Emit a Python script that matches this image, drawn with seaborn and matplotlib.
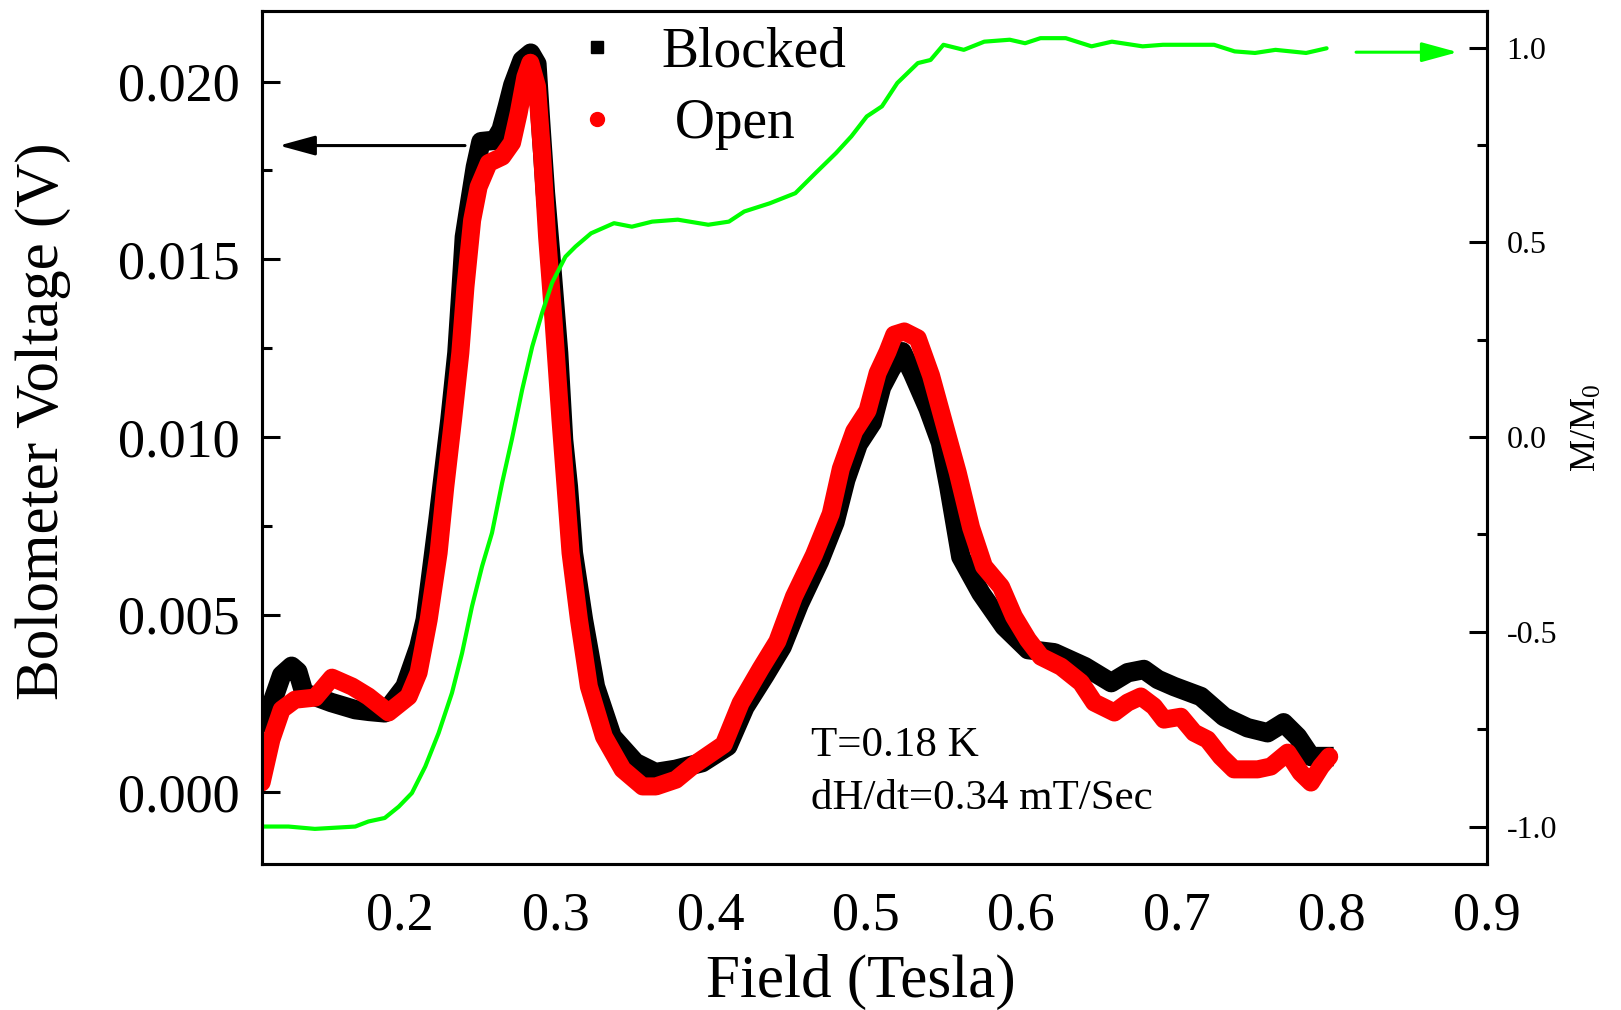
import numpy as np
import pandas as pd
import matplotlib
matplotlib.use("Agg")
import matplotlib.pyplot as plt
from matplotlib.ticker import MultipleLocator, FormatStrFormatter
from matplotlib.lines import Line2D
import seaborn as sns

# ---------------- data ----------------
blocked_field = [0.1107, 0.1180, 0.1236, 0.1300, 0.1340, 0.1380, 0.1450, 0.1556, 0.1710, 0.1800,
                 0.1900, 0.2030, 0.2120, 0.2161, 0.2243, 0.2320, 0.2365, 0.2393, 0.2413, 0.2450,
                 0.2484, 0.2520, 0.2610, 0.2650, 0.2690, 0.2725, 0.2785, 0.2840, 0.2880, 0.2903,
                 0.2935, 0.2968, 0.3020, 0.3052, 0.3083, 0.3115, 0.3180, 0.3257, 0.3365, 0.3515,
                 0.3644, 0.3773, 0.3945, 0.4110, 0.4220, 0.4350, 0.4460, 0.4570, 0.4700, 0.4800,
                 0.4870, 0.4950, 0.5040, 0.5100, 0.5160, 0.5233, 0.5300, 0.5400, 0.5480, 0.5534,
                 0.5611, 0.5740, 0.5890, 0.6043, 0.6213, 0.6410, 0.6580, 0.6686, 0.6790, 0.6880,
                 0.6985, 0.7157, 0.7307, 0.7458, 0.7587, 0.7690, 0.7780, 0.7866, 0.7950]
blocked_volt = [0.00205, 0.00260, 0.00330, 0.00355, 0.00340, 0.00280, 0.00270, 0.00253, 0.00233, 0.00228,
                0.00224, 0.00298, 0.00410, 0.00486, 0.00767, 0.01049, 0.01237, 0.01423, 0.01563, 0.01667,
                0.01760, 0.01831, 0.01835, 0.01865, 0.01930, 0.01990, 0.02060, 0.02080, 0.02050, 0.01893,
                0.01687, 0.01518, 0.01237, 0.00992, 0.00860, 0.00674, 0.00486, 0.00298, 0.00157, 0.00084,
                0.00056, 0.00065, 0.00084, 0.00130, 0.00240, 0.00330, 0.00410, 0.00530, 0.00650, 0.00760,
                0.00880, 0.00980, 0.01040, 0.01140, 0.01190, 0.01240, 0.01180, 0.01080, 0.00984, 0.00860,
                0.00663, 0.00561, 0.00467, 0.00402, 0.00393, 0.00354, 0.00309, 0.00337, 0.00346, 0.00318,
                0.00298, 0.00270, 0.00213, 0.00182, 0.00168, 0.00196, 0.00157, 0.00101, 0.00101]

open_field = [0.1107, 0.1170, 0.1236, 0.1322, 0.1452, 0.1560, 0.1690, 0.1795, 0.1925, 0.2054,
              0.2118, 0.2183, 0.2247, 0.2290, 0.2340, 0.2387, 0.2420, 0.2463, 0.2505, 0.2570,
              0.2657, 0.2720, 0.2763, 0.2806, 0.2838, 0.2881, 0.2913, 0.2946, 0.2987, 0.3032,
              0.3065, 0.3097, 0.3151, 0.3215, 0.3312, 0.3432, 0.3561, 0.3647, 0.3776, 0.3890,
              0.4084, 0.4192, 0.4321, 0.4429, 0.4536, 0.4665, 0.4773, 0.4838, 0.4924, 0.5010,
              0.5075, 0.5139, 0.5182, 0.5247, 0.5333, 0.5419, 0.5505, 0.5591, 0.5677, 0.5760,
              0.5870, 0.5953, 0.6043, 0.6127, 0.6256, 0.6385, 0.6470, 0.6600, 0.6686, 0.6770,
              0.6855, 0.6920, 0.7028, 0.7114, 0.7200, 0.7286, 0.7370, 0.7523, 0.7608, 0.7716,
              0.7800, 0.7866, 0.7931, 0.7984]
open_volt = [0.00028, 0.00149, 0.00233, 0.00261, 0.00267, 0.00323, 0.00298, 0.00270, 0.00225, 0.00270,
             0.00337, 0.00486, 0.00674, 0.00860, 0.01049, 0.01237, 0.01423, 0.01610, 0.01704, 0.01771,
             0.01789, 0.01828, 0.01912, 0.02013, 0.02053, 0.01986, 0.01800, 0.01563, 0.01330, 0.01049,
             0.00860, 0.00674, 0.00486, 0.00298, 0.00157, 0.00065, 0.00017, 0.00017, 0.00036, 0.00077,
             0.00135, 0.00251, 0.00348, 0.00425, 0.00551, 0.00668, 0.00784, 0.00911, 0.01016, 0.01074,
             0.01180, 0.01240, 0.01288, 0.01297, 0.01278, 0.01173, 0.01036, 0.00900, 0.00745, 0.00636,
             0.00579, 0.00495, 0.00430, 0.00382, 0.00354, 0.00309, 0.00253, 0.00225, 0.00253, 0.00270,
             0.00242, 0.00205, 0.00213, 0.00168, 0.00149, 0.00101, 0.00065, 0.00065, 0.00073, 0.00112,
             0.00056, 0.00028, 0.00073, 0.00101]

mag_field = [0.1107, 0.1280, 0.1450, 0.1710, 0.1795, 0.1900, 0.1990, 0.2075, 0.2161, 0.2247,
             0.2333, 0.2398, 0.2462, 0.2527, 0.2591, 0.2656, 0.2720, 0.2785, 0.2850, 0.2914,
             0.2978, 0.3064, 0.3129, 0.3229, 0.3377, 0.3492, 0.3623, 0.3788, 0.3984, 0.4117,
             0.4216, 0.4380, 0.4545, 0.4676, 0.4807, 0.4906, 0.5005, 0.5103, 0.5202, 0.5334,
             0.5416, 0.5499, 0.5630, 0.5762, 0.5926, 0.6025, 0.6124, 0.6287, 0.6453, 0.6584,
             0.6782, 0.6913, 0.7242, 0.7375, 0.7506, 0.7638, 0.7835, 0.7967]
mag_norm = [-1.000, -1.000, -1.006, -1.000, -0.987, -0.978, -0.949, -0.914, -0.846, -0.760,
            -0.657, -0.555, -0.435, -0.332, -0.246, -0.118, -0.004, 0.121, 0.232, 0.319,
            0.396, 0.463, 0.489, 0.523, 0.549, 0.540, 0.553, 0.558, 0.545, 0.553,
            0.579, 0.600, 0.626, 0.678, 0.729, 0.772, 0.823, 0.849, 0.909, 0.960,
            0.968, 1.007, 0.994, 1.015, 1.020, 1.011, 1.024, 1.024, 1.003, 1.015,
            1.003, 1.007, 1.007, 0.990, 0.986, 0.994, 0.986, 0.998]

x_ticks = [0.2, 0.3, 0.4, 0.5, 0.6, 0.7, 0.8, 0.9]
left_ticks = [0.000, 0.005, 0.010, 0.015, 0.020]
right_ticks = [-1.0, -0.5, 0.0, 0.5, 1.0]

legend_labels = ["Blocked", " Open"]
note_lines = ["T=0.18 K", "dH/dt=0.34 mT/Sec"]

# ---------------- style ----------------
sns.set_theme(style="white")
plt.rcParams["font.family"] = ["Liberation Serif", "DejaVu Serif"]
plt.rcParams["axes.unicode_minus"] = False
plt.rcParams["axes.linewidth"] = 2.2
plt.rcParams["text.color"] = "black"
plt.rcParams["axes.labelcolor"] = "black"
plt.rcParams["xtick.color"] = "black"
plt.rcParams["ytick.color"] = "black"
plt.rcParams["axes.edgecolor"] = "black"
plt.rcParams["mathtext.fontset"] = "custom"
plt.rcParams["mathtext.rm"] = "Liberation Serif"
plt.rcParams["mathtext.it"] = "Liberation Serif"

fig = plt.figure(figsize=(16.21, 10.10), dpi=100)
ax = fig.add_axes([0.1614, 0.145, 0.7559, 0.8446])

df_b = pd.DataFrame({"field": blocked_field, "volt": blocked_volt})
df_o = pd.DataFrame({"field": open_field, "volt": open_volt})
df_m = pd.DataFrame({"field": mag_field, "m": mag_norm})

sns.lineplot(data=df_b, x="field", y="volt", ax=ax, color="black", linewidth=14.0,
             sort=False, estimator=None, legend=False, solid_capstyle="projecting",
             solid_joinstyle="round", zorder=2)
sns.lineplot(data=df_o, x="field", y="volt", ax=ax, color="#ff0000", linewidth=13.0,
             sort=False, estimator=None, legend=False, solid_capstyle="round",
             solid_joinstyle="round", zorder=3)

ax.set_xlim(0.1107, 0.9)
ax.set_ylim(-0.002, 0.022)
ax.set_xticks(x_ticks)
ax.set_yticks(left_ticks)
ax.xaxis.set_minor_locator(MultipleLocator(0.05))
ax.yaxis.set_minor_locator(MultipleLocator(0.0025))
ax.xaxis.set_major_formatter(FormatStrFormatter("%.1f"))
ax.yaxis.set_major_formatter(FormatStrFormatter("%.3f"))
ax.tick_params(axis="both", which="major", direction="in", length=13, width=2.2,
               labelsize=39, colors="black")
ax.tick_params(axis="both", which="minor", direction="in", length=7, width=2.2)
ax.tick_params(axis="x", which="major", pad=20)
ax.tick_params(axis="y", which="major", pad=16)
ax.tick_params(top=False, right=False, which="both")
for s in ax.spines.values():
    s.set_color("black")
    s.set_linewidth(2.2)

ax.set_xlabel("Field (Tesla)", fontsize=44, color="black")
ax.set_ylabel("Bolometer Voltage (V)", fontsize=44, color="black")
ax.xaxis.label.set_va("center")
ax.yaxis.label.set_va("center")
ax.xaxis.set_label_coords(0.4888, -0.139)
ax.yaxis.set_label_coords(-0.1785, 0.519)

# twin axis for magnetization
ax2 = ax.twinx()
sns.lineplot(data=df_m, x="field", y="m", ax=ax2, color="#00ff00", linewidth=3.0,
             sort=False, estimator=None, legend=False)
ax2.set_ylim(-1.095, 1.095)
ax2.set_yticks(right_ticks)
ax2.yaxis.set_minor_locator(MultipleLocator(0.25))
ax2.yaxis.set_major_formatter(FormatStrFormatter("%.1f"))
ax2.tick_params(axis="y", which="major", direction="in", length=13, width=2.2,
                labelsize=23, pad=14, colors="black")
ax2.tick_params(axis="y", which="minor", direction="in", length=7, width=2.2)
ax2.grid(False)
ax.grid(False)
ax2.set_xlabel("")
ax2.set_ylabel(r"M/M$_0$", fontsize=26, color="black")
ax2.yaxis.label.set_va("center")
ax2.yaxis.set_label_coords(1.0816, 0.5106)

# arrows
ax.annotate("", xy=(0.1219, 0.0182), xytext=(0.2417, 0.0182),
            arrowprops=dict(arrowstyle="-|>,head_length=1.1,head_width=0.3",
                            mutation_scale=20, lw=2.2, color="black",
                            shrinkA=0, shrinkB=0))
ax2.annotate("", xy=(0.8812, 0.988), xytext=(0.8157, 0.988),
             arrowprops=dict(arrowstyle="-|>,head_length=1.1,head_width=0.3",
                             mutation_scale=20, lw=2.2, color="#00ff00",
                             shrinkA=0, shrinkB=0))

# notes
ax.text(0.4649, 0.00132, note_lines[0], fontsize=31, va="center", ha="left", color="black")
ax.text(0.4649, -0.00017, note_lines[1], fontsize=31, va="center", ha="left", color="black")

# legend
handles = [Line2D([], [], linestyle="none", marker="s", color="black", markersize=9),
           Line2D([], [], linestyle="none", marker="o", color="#ff0000", markersize=10)]
leg = fig.legend(handles, legend_labels, loc="upper left", bbox_to_anchor=(0.3514, 0.974),
                 bbox_transform=fig.transFigure, frameon=False, fontsize=40,
                 handlelength=1.0, handletextpad=0.65, labelspacing=0.36, borderpad=0,
                 borderaxespad=0)
for t in leg.get_texts():
    t.set_color("black")

fig.savefig("out.png", dpi=100)
